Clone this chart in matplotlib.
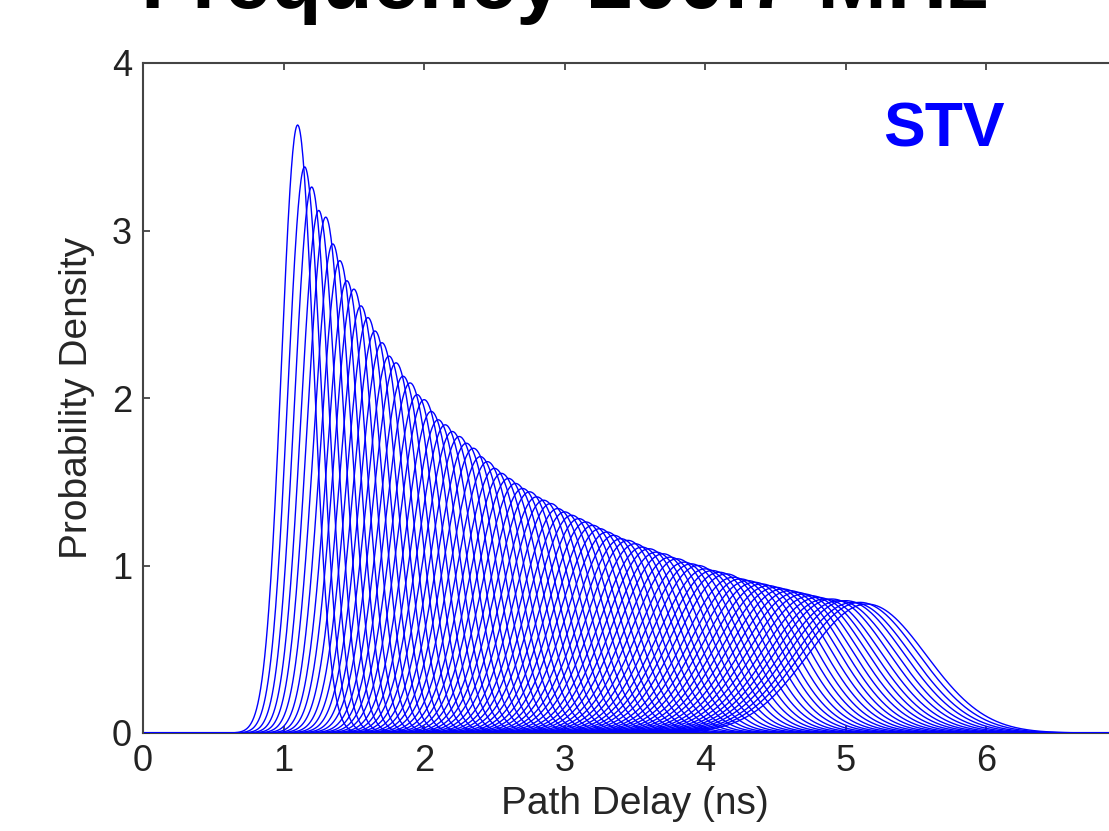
import numpy as np
import matplotlib
matplotlib.use("Agg")
import matplotlib.pyplot as plt

# ---- data ----
# centre (ns), peak height, spread (ns) of each delay-distribution curve
peak_delay_ns = [1.10, 1.15, 1.20, 1.25, 1.30, 1.35, 1.40, 1.45, 1.50, 1.55,
                 1.60, 1.65, 1.70, 1.75, 1.80, 1.85, 1.90, 1.95, 2.00, 2.05,
                 2.10, 2.15, 2.20, 2.25, 2.30, 2.35, 2.40, 2.45, 2.50, 2.55,
                 2.60, 2.65, 2.70, 2.75, 2.80, 2.85, 2.90, 2.95, 3.00, 3.05,
                 3.10, 3.15, 3.20, 3.25, 3.30, 3.35, 3.40, 3.45, 3.50, 3.55,
                 3.60, 3.65, 3.70, 3.75, 3.80, 3.85, 3.90, 3.95, 4.00, 4.05,
                 4.10, 4.15, 4.20, 4.25, 4.30, 4.35, 4.40, 4.45, 4.50, 4.55,
                 4.60, 4.65, 4.70, 4.75, 4.80, 4.85, 4.90, 4.95, 5.00, 5.05,
                 5.10, 5.15]
peak_density = [3.63, 3.38, 3.26, 3.12, 3.08, 2.92, 2.82, 2.70, 2.65, 2.55,
                2.48, 2.40, 2.33, 2.25, 2.21, 2.13, 2.09, 2.02, 1.99, 1.92,
                1.87, 1.84, 1.80, 1.77, 1.73, 1.70, 1.65, 1.62, 1.58, 1.55,
                1.52, 1.49, 1.46, 1.44, 1.41, 1.39, 1.37, 1.34, 1.32, 1.30,
                1.28, 1.26, 1.24, 1.22, 1.20, 1.18, 1.16, 1.15, 1.13, 1.11,
                1.10, 1.08, 1.07, 1.05, 1.04, 1.02, 1.01, 1.00, 0.98, 0.97,
                0.96, 0.95, 0.93, 0.92, 0.91, 0.90, 0.89, 0.88, 0.87, 0.86,
                0.85, 0.84, 0.83, 0.82, 0.81, 0.80, 0.80, 0.79, 0.79, 0.78,
                0.78, 0.77]
spread_ns = [0.115, 0.119, 0.122, 0.126, 0.130, 0.134, 0.137, 0.141, 0.145, 0.149,
             0.152, 0.156, 0.160, 0.164, 0.168, 0.171, 0.175, 0.179, 0.183, 0.186,
             0.190, 0.194, 0.198, 0.201, 0.205, 0.209, 0.213, 0.216, 0.220, 0.224,
             0.228, 0.232, 0.235, 0.239, 0.243, 0.247, 0.250, 0.254, 0.258, 0.262,
             0.265, 0.269, 0.273, 0.277, 0.281, 0.284, 0.288, 0.292, 0.296, 0.299,
             0.303, 0.307, 0.311, 0.314, 0.318, 0.322, 0.326, 0.329, 0.333, 0.337,
             0.341, 0.345, 0.348, 0.352, 0.356, 0.360, 0.363, 0.367, 0.371, 0.375,
             0.378, 0.382, 0.386, 0.390, 0.393, 0.397, 0.401, 0.405, 0.409, 0.412,
             0.416, 0.420]
x_ticks = [0, 1, 2, 3, 4, 5, 6]
y_ticks = [0, 1, 2, 3, 4]
title_text = "Frequency 100.7 MHz"
x_label = "Path Delay (ns)"
y_label = "Probability Density"
tag_text = "STV"

# ---- figure ----
W, H = 1109, 831
fig = plt.figure(figsize=(W / 100, H / 100), dpi=100)
fig.patch.set_facecolor("white")
ax = fig.add_axes([143 / W, (H - 733) / H, 984 / W, 670 / H])

delay_grid = np.linspace(0.2, 7.0, 1400)
for c, h, s in zip(peak_delay_ns, peak_density, spread_ns):
    y = h * np.exp(-0.5 * ((delay_grid - c) / s) ** 2)
    ax.plot(delay_grid, y, color="#0000ff", lw=1.0, solid_joinstyle="round")
ax.plot([0, 7], [0, 0], color="#0000ff", lw=1.5)

ax.set_xlim(0, 7)
ax.set_ylim(0, 4)
ax.set_xticks(x_ticks)
ax.set_yticks(y_ticks)

font = ["Liberation Sans", "DejaVu Sans"]
ax.tick_params(direction="in", length=5, width=1.2, colors="#333333",
               labelsize=26, pad=8, top=True, right=True)
for lab in ax.get_xticklabels() + ax.get_yticklabels():
    lab.set_family(font)
    lab.set_color("#222222")
for side in ["left", "top", "bottom", "right"]:
    ax.spines[side].set_color("#444444")
    ax.spines[side].set_linewidth(1.5)
ax.spines["bottom"].set_zorder(0)

ax.set_xlabel(x_label, fontsize=28, family=font, color="#262626", labelpad=5)
ax.set_ylabel(y_label, fontsize=28, family=font, color="#262626", labelpad=12)

ax.text(5.70, 3.60, tag_text, color="#0000ff", fontsize=45, fontweight="bold",
        family=font, ha="center", va="center")

fig.text(565 / W, 1 - 8 / H, title_text, fontsize=60, fontweight="bold",
         family=font, ha="center", va="baseline", color="black")

fig.savefig("out.png", dpi=100)
